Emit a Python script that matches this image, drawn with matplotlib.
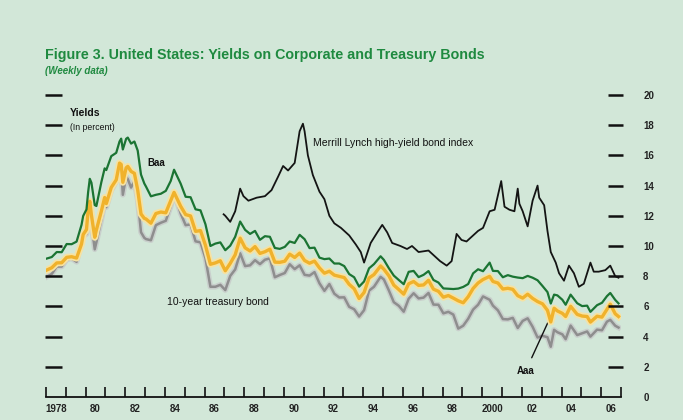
import matplotlib
matplotlib.use("Agg")
import matplotlib.pyplot as plt

plt.rcParams['font.family'] = ['Liberation Sans Narrow', 'Liberation Sans', 'DejaVu Sans']

# ---------------- data ----------------
dates = [
    "1978-01", "1978-04", "1978-07", "1978-10",
    "1979-01", "1979-04", "1979-07", "1979-10", "1979-11",
    "1980-01", "1980-02", "1980-03", "1980-04", "1980-06", "1980-07", "1980-10", "1980-12",
    "1981-01", "1981-04", "1981-07", "1981-09", "1981-10", "1981-11",
    "1982-01", "1982-02", "1982-04", "1982-06", "1982-08", "1982-10", "1982-12",
    "1983-01", "1983-04", "1983-07", "1983-10",
    "1984-01", "1984-04", "1984-06", "1984-10",
    "1985-01", "1985-04", "1985-07", "1985-10",
    "1986-01", "1986-04", "1986-07", "1986-10",
    "1987-01", "1987-04", "1987-07", "1987-10",
    "1988-01", "1988-04", "1988-07", "1988-10",
    "1989-01", "1989-04", "1989-07", "1989-10",
    "1990-01", "1990-04", "1990-07", "1990-10",
    "1991-01", "1991-04", "1991-07", "1991-10",
    "1992-01", "1992-04", "1992-07", "1992-10",
    "1993-01", "1993-04", "1993-07", "1993-10",
    "1994-01", "1994-04", "1994-07", "1994-11",
    "1995-01", "1995-04", "1995-07", "1995-10",
    "1996-01", "1996-04", "1996-07", "1996-10",
    "1997-01", "1997-04", "1997-07", "1997-10",
    "1998-01", "1998-04", "1998-07", "1998-10",
    "1999-01", "1999-04", "1999-07", "1999-10",
    "2000-01", "2000-05", "2000-07", "2000-10",
    "2001-01", "2001-04", "2001-07", "2001-10",
    "2002-01", "2002-04", "2002-07", "2002-10",
    "2003-01", "2003-04", "2003-06", "2003-08", "2003-10",
    "2004-01", "2004-03", "2004-06", "2004-10",
    "2005-01", "2005-04", "2005-06", "2005-10",
    "2006-01", "2006-04", "2006-06", "2006-09", "2006-11",
]

baa = [
    9.17, 9.27, 9.60, 9.59,
    10.13, 10.12, 10.29, 11.40, 11.99,
    12.42, 13.57, 14.45, 14.19, 12.71, 12.65, 14.23, 15.14,
    15.03, 15.95, 16.17, 16.92, 17.11, 16.39,
    17.10, 17.18, 16.78, 16.92, 16.32, 14.73, 14.14,
    13.94, 13.29, 13.39, 13.46,
    13.65, 14.31, 15.05, 14.13,
    13.26, 13.23, 12.43, 12.36,
    11.44, 10.00, 10.16, 10.24,
    9.72, 10.02, 10.61, 11.62,
    11.07, 10.80, 11.00, 10.41,
    10.65, 10.61, 9.87, 9.81,
    9.94, 10.30, 10.20, 10.74,
    10.45, 9.86, 9.89, 9.23,
    9.13, 9.17, 8.84, 8.84,
    8.67, 8.14, 7.93, 7.31,
    7.65, 8.52, 8.80, 9.32,
    9.08, 8.53, 8.04, 7.75,
    7.47, 8.29, 8.35, 7.94,
    8.09, 8.34, 7.75, 7.58,
    7.19, 7.17, 7.15, 7.18,
    7.29, 7.48, 8.19, 8.46,
    8.33, 8.90, 8.35, 8.34,
    7.93, 8.07, 7.97, 7.91,
    7.87, 8.02, 7.90, 7.73,
    7.35, 6.95, 6.19, 6.78, 6.73,
    6.44, 6.11, 6.78, 6.21,
    6.02, 6.05, 5.64, 6.08,
    6.24, 6.68, 6.89, 6.43, 6.20,
]

aaa = [
    8.41, 8.56, 8.88, 8.89,
    9.25, 9.29, 9.20, 10.13, 10.76,
    11.09, 12.38, 12.96, 12.04, 10.58, 11.07, 12.31, 13.21,
    12.81, 13.88, 14.38, 15.49, 15.40, 14.22,
    15.18, 15.27, 14.94, 14.81, 13.71, 12.12, 11.83,
    11.79, 11.51, 12.15, 12.25,
    12.20, 13.00, 13.55, 12.63,
    12.08, 11.99, 10.97, 11.02,
    10.05, 8.79, 8.88, 9.02,
    8.36, 8.85, 9.42, 10.52,
    9.88, 9.67, 9.96, 9.51,
    9.62, 9.79, 8.93, 8.92,
    8.99, 9.46, 9.24, 9.53,
    9.04, 8.86, 9.00, 8.55,
    8.20, 8.33, 8.07, 7.99,
    7.91, 7.46, 7.17, 6.52,
    6.92, 7.88, 8.11, 8.68,
    8.46, 8.03, 7.41, 7.12,
    6.81, 7.50, 7.65, 7.39,
    7.42, 7.73, 7.14, 7.00,
    6.61, 6.72, 6.55, 6.37,
    6.24, 6.64, 7.19, 7.55,
    7.78, 7.99, 7.65, 7.55,
    7.15, 7.20, 7.13, 6.71,
    6.55, 6.81, 6.53, 6.32,
    6.17, 5.74, 4.97, 5.88, 5.70,
    5.54, 5.33, 6.01, 5.47,
    5.36, 5.33, 4.96, 5.35,
    5.29, 5.80, 6.15, 5.51, 5.33,
]

treasury10 = [
    7.96, 8.15, 8.64, 8.64,
    9.10, 9.18, 8.95, 10.30, 10.65,
    10.80, 12.41, 12.75, 11.47, 9.78, 10.25, 11.75, 12.84,
    12.57, 13.68, 14.28, 15.32, 15.15, 13.39,
    14.59, 14.43, 13.87, 14.30, 13.06, 10.91, 10.54,
    10.46, 10.38, 11.38, 11.54,
    11.67, 12.63, 13.56, 12.16,
    11.38, 11.43, 10.31, 10.24,
    9.19, 7.30, 7.30, 7.43,
    7.08, 8.02, 8.45, 9.52,
    8.67, 8.72, 9.06, 8.80,
    9.09, 9.18, 7.93, 8.08,
    8.21, 8.79, 8.47, 8.72,
    8.09, 8.04, 8.27, 7.53,
    7.03, 7.48, 6.84, 6.59,
    6.60, 5.97, 5.81, 5.33,
    5.75, 7.04, 7.30, 7.96,
    7.78, 7.06, 6.28, 6.04,
    5.65, 6.51, 6.87, 6.53,
    6.58, 6.89, 6.12, 6.11,
    5.54, 5.64, 5.46, 4.53,
    4.72, 5.18, 5.79, 6.11,
    6.66, 6.44, 6.05, 5.74,
    5.16, 5.14, 5.24, 4.57,
    5.04, 5.21, 4.65, 3.94,
    4.05, 3.96, 3.33, 4.45, 4.29,
    4.15, 3.83, 4.73, 4.10,
    4.22, 4.34, 4.00, 4.46,
    4.42, 4.99, 5.11, 4.72, 4.60,
]

ml_dates = [
    "1986-12", "1987-01", "1987-04", "1987-07", "1987-10", "1987-12",
    "1988-03", "1988-08", "1989-01", "1989-05", "1989-09", "1989-12",
    "1990-03", "1990-07", "1990-10", "1990-12", "1991-01", "1991-03",
    "1991-06", "1991-10", "1992-01", "1992-04", "1992-07", "1992-11",
    "1993-04", "1993-08", "1993-11", "1994-01", "1994-05", "1994-09",
    "1994-12", "1995-03", "1995-06", "1995-11", "1996-03", "1996-06",
    "1996-10", "1997-04", "1997-08", "1997-11", "1998-03", "1998-06",
    "1998-09", "1998-12", "1999-03", "1999-06", "1999-10", "2000-01",
    "2000-05", "2000-08", "2000-12", "2001-02", "2001-05", "2001-08",
    "2001-10", "2001-11", "2002-01", "2002-04", "2002-07", "2002-10",
    "2002-11", "2003-02", "2003-04", "2003-06", "2003-09", "2003-11",
    "2004-02", "2004-05", "2004-08", "2004-11", "2005-02", "2005-06",
    "2005-08", "2005-11", "2006-03", "2006-06", "2006-09", "2006-11",
]
ml_hy = [
    12.1, 12.0, 11.6, 12.3, 13.8, 13.3,
    13.0, 13.2, 13.3, 13.7, 14.6, 15.3,
    15.0, 15.5, 17.6, 18.1, 17.6, 16.0,
    14.7, 13.6, 13.1, 12.0, 11.5, 11.2,
    10.7, 10.1, 9.6, 8.9, 10.2, 10.9,
    11.4, 10.9, 10.2, 10.0, 9.8, 10.0,
    9.6, 9.7, 9.3, 9.0, 8.7, 9.0,
    10.8, 10.4, 10.3, 10.6, 11.0, 11.2,
    12.3, 12.4, 14.3, 12.6, 12.4, 12.3,
    13.8, 12.8, 12.3, 11.3, 13.0, 14.0,
    13.2, 12.7, 11.0, 9.6, 8.9, 8.2,
    7.7, 8.7, 8.2, 7.3, 7.5, 8.9,
    8.3, 8.3, 8.4, 8.7, 8.0, 7.9,
]

year_ticks = list(range(1978, 2008))
label_years = list(range(1978, 2007, 2))
year_labels = ["1978", "80", "82", "84", "86", "88", "90", "92", "94", "96",
               "98", "2000", "02", "04", "06"]
y_ticks = list(range(0, 21, 2))
dash_values = list(range(2, 21, 2))


def to_year(s):
    y, m = s.split("-")
    return int(y) + (int(m) - 0.5) / 12.0


x = [to_year(d) for d in dates]
xml = [to_year(d) for d in ml_dates]

# ---------------- layout ----------------
W, H = 683, 420
BG = "#d2e7d8"
GREEN_T = "#1f8a40"

fig = plt.figure(figsize=(W / 100, H / 100), dpi=100)
fig.patch.set_facecolor(BG)

PX0, PX1 = 46, 621      # x pixels of 1978 and 2007
PY0, PY20 = 397, 95     # y pixels of 0 and 20
ax = fig.add_axes([PX0 / W, (H - PY0) / H, (PX1 - PX0) / W, (PY0 - PY20) / H])
ax.patch.set_visible(False)
ax.set_xlim(1978, 2007)
ax.set_ylim(0, 20)
for s in ["top", "left", "right"]:
    ax.spines[s].set_visible(False)
ax.spines["bottom"].set_linewidth(1.3)
ax.spines["bottom"].set_color("#111111")

# series
ax.plot(x, treasury10, color="#c9cfcc", lw=4.0, solid_joinstyle="round", zorder=2)
ax.plot(x, treasury10, color="#8e8e8e", lw=1.8, solid_joinstyle="round", zorder=3)
ax.plot(x, aaa, color="#f6e2a2", lw=5.0, solid_joinstyle="round", zorder=4)
ax.plot(x, aaa, color="#f0b22c", lw=2.4, solid_joinstyle="round", zorder=5)
ax.plot(x, baa, color="#1b7433", lw=1.6, solid_joinstyle="round", zorder=6)
ax.plot(xml, ml_hy, color="#141414", lw=1.3, solid_joinstyle="round", zorder=7)

# x axis ticks
ax.set_xticks(year_ticks)
ax.set_xticklabels([])
ax.tick_params(axis="x", which="major", direction="in", length=7.5, width=1.2,
               color="#111111")
ax.set_xticks([yv + 0.5 for yv in label_years], minor=True)
ax.set_xticklabels(year_labels, minor=True, fontsize=7, fontweight="bold",
                   color="#222222")
ax.tick_params(axis="x", which="minor", length=0, pad=5)

# y axis labels on right
ax.yaxis.tick_right()
ax.set_yticks(y_ticks)
ax.set_yticklabels([str(v) for v in y_ticks], fontsize=7, fontweight="bold",
                   color="#222222")
ax.tick_params(axis="y", which="major", length=0, pad=16)

# dashes on both sides
dx = 1.0 / ((PX1 - PX0) / 29.0)
for v in dash_values:
    ax.plot([1978 - 1 * dx, 1978 + 16 * dx], [v, v], color="#111111", lw=1.8,
            clip_on=False, solid_capstyle="butt", zorder=8)
    ax.plot([1978 + 562 * dx, 1978 + 577 * dx], [v, v], color="#111111", lw=1.8,
            clip_on=False, solid_capstyle="butt", zorder=8)


def fx(px):
    return px / W


def fy(py):
    return 1 - py / H


# titles
fig.text(fx(45), fy(55), "Figure 3. United States: Yields on Corporate and Treasury Bonds",
         fontsize=10.3, fontweight="bold", color=GREEN_T, va="center", ha="left")
fig.text(fx(45), fy(71), "(Weekly data)", fontsize=7, fontstyle="italic",
         fontweight="bold", color=GREEN_T, va="center", ha="left")

# annotations
fig.text(fx(70), fy(113), "Yields", fontsize=7.5, fontweight="bold", color="#111111",
         va="center", ha="left")
fig.text(fx(70), fy(127), "(In percent)", fontsize=6.2, color="#111111",
         va="center", ha="left")
fig.text(fx(147), fy(163), "Baa", fontsize=7, fontweight="bold", color="#111111",
         va="center", ha="left")
fig.text(fx(313), fy(143), "Merrill Lynch high-yield bond index", fontsize=7.5,
         color="#111111", va="center", ha="left")
fig.text(fx(167), fy(302), "10-year treasury bond", fontsize=7.5,
         color="#111111", va="center", ha="left")
ax.annotate("Aaa", xy=(2003.43, 5.27), xytext=(2002.2, 1.75),
            fontsize=7, fontweight="bold", color="#111111", ha="center", va="center",
            arrowprops=dict(arrowstyle="-", color="#111111", lw=1.0,
                            shrinkA=4, shrinkB=0))

fig.savefig("out.png", dpi=100, facecolor=BG)
